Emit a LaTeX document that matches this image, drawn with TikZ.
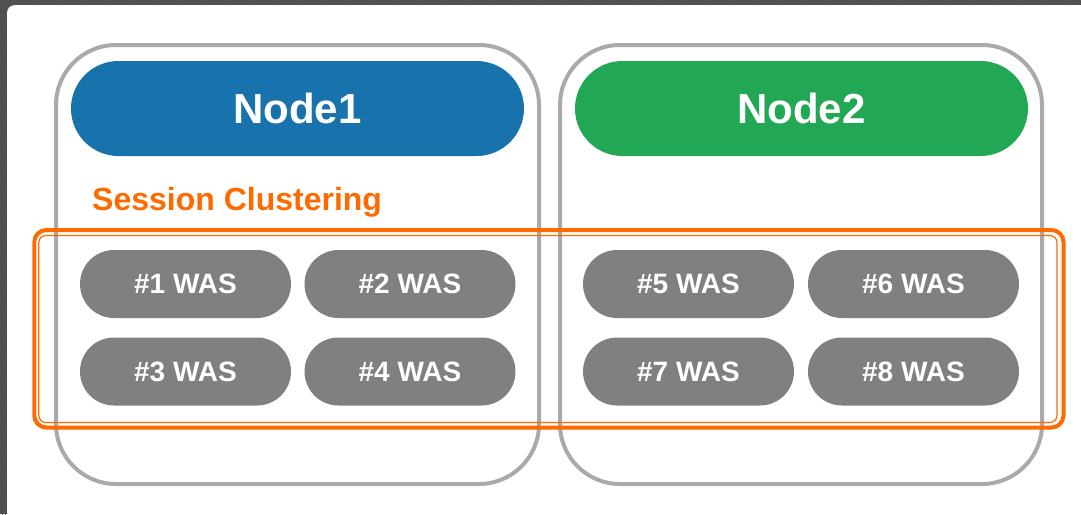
\documentclass[tikz,border=0pt]{standalone}
\usepackage{fontspec}
\setmainfont{Liberation Sans}
\usetikzlibrary{shapes.misc,patterns}
\definecolor{frameDark}{HTML}{4A4A4A}
\definecolor{frameLine}{HTML}{5E5E5E}
\definecolor{boxGray}{HTML}{AAAAAA}
\definecolor{headBlue}{HTML}{1873AC}
\definecolor{headGreen}{HTML}{22A854}
\definecolor{wasGray}{HTML}{808080}
\definecolor{clusterOrange}{HTML}{FF6A00}
\tikzset{
  nodebox/.style={draw=boxGray, line width=4pt, rounded corners=60pt},
  headpill/.style={rounded rectangle, inner sep=0pt, minimum width=453pt,
    minimum height=95pt, text=white,
    font=\bfseries\fontsize{42}{50}\selectfont},
  waspill/.style={rounded rectangle, inner sep=0pt, fill=wasGray,
    minimum width=211pt, minimum height=68pt, text=white,
    font=\bfseries\fontsize{28}{34}\selectfont},
  clusterouter/.style={draw=clusterOrange, line width=4pt, rounded corners=12pt},
  clusterinner/.style={draw=clusterOrange, line width=1.2pt, rounded corners=7pt},
}
\begin{document}
\begin{tikzpicture}[x=1pt, y=-1pt]
  % canvas and window frame
  \useasboundingbox (0,0) rectangle (1081,514);
  \fill[frameDark] (0,0) rectangle (1081,514);
  \fill[pattern=north east lines, pattern color=frameLine] (0,0) rectangle (1081,514);
  \fill[white, rounded corners=8pt] (7,5) rectangle (1100,520);

  % server boxes
  \draw[nodebox] (56,45) rectangle (539,484);
  \draw[nodebox] (560,45) rectangle (1042,484);

  % server headers
  \node[headpill, fill=headBlue]  (n1head) at (297.5,108.5) {Node1};
  \node[headpill, fill=headGreen] (n2head) at (801.5,108.5) {Node2};

  % cluster label
  \node[anchor=base west, inner sep=0pt, text=clusterOrange,
        font=\bfseries\fontsize{32}{38}\selectfont] (cl) at (92,210) {Session Clustering};

  % WAS instances
  \node[waspill] (was1) at (185.5,284) {\#1 WAS};
  \node[waspill] (was2) at (410,284)   {\#2 WAS};
  \node[waspill] (was3) at (185.5,371.5) {\#3 WAS};
  \node[waspill] (was4) at (410,371.5)   {\#4 WAS};
  \node[waspill] (was5) at (688.5,284) {\#5 WAS};
  \node[waspill] (was6) at (913.5,284) {\#6 WAS};
  \node[waspill] (was7) at (688.5,371.5) {\#7 WAS};
  \node[waspill] (was8) at (913.5,371.5) {\#8 WAS};

  % session cluster frame (double line)
  \draw[clusterouter] (34.3,230) rectangle (1063.5,427.5);
  \draw[clusterinner] (38.8,235.5) rectangle (1057,422.5);
\end{tikzpicture}
\end{document}
